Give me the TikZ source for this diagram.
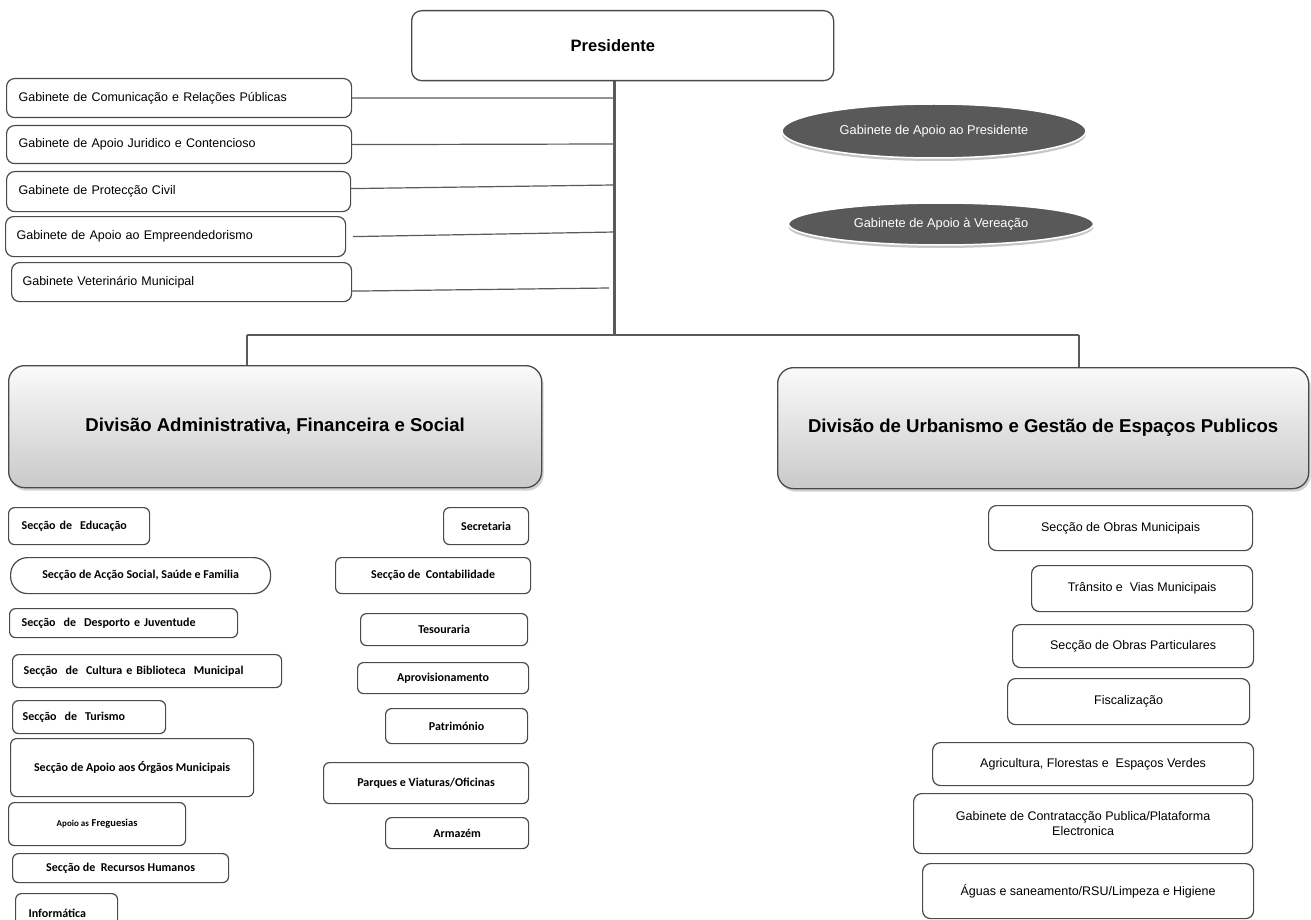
\documentclass[tikz,border=0pt]{standalone}
\usepackage{fontspec}
\setmainfont{Liberation Sans}
\newfontfamily\calf{Carlito}
\usetikzlibrary{shapes.geometric,shadows}
\definecolor{lineg}{HTML}{5A5A5A}
\definecolor{boxb}{HTML}{4A4A4A}
\definecolor{ellf}{HTML}{595959}
\begin{document}
\begin{tikzpicture}[x=1pt,y=-1pt,
  gab/.style={draw=boxb, line width=1.2pt, rounded corners=8pt, fill=white, inner ysep=0pt,
    font=\fontsize{12.5}{15}\selectfont, anchor=north west, align=left},
  pbox/.style={draw=boxb, line width=1.3pt, rounded corners=10pt, fill=white, inner ysep=0pt,
    font=\bfseries\fontsize{16.5}{19}\selectfont, anchor=north west, align=left},
  divbox/.style={draw=boxb, line width=1.3pt, rounded corners=16pt, top color=gray!4, bottom color=gray!42,
    drop shadow={shadow xshift=2pt, shadow yshift=-3pt, opacity=0.35},
    font=\bfseries\fontsize{18.6}{21}\selectfont, anchor=north west, inner sep=0pt},
  ell/.style={ellipse, fill=ellf, draw=white, line width=1.5pt, inner sep=0pt,
    drop shadow={shadow xshift=0pt, shadow yshift=-3pt, fill=gray!45, opacity=1},
    text=white, font=\fontsize{12.8}{14}\selectfont},
  sec/.style={draw=boxb, line width=1.2pt, rounded corners=6pt, fill=white, inner ysep=0pt,
    font=\calf\bfseries\fontsize{12}{14}\selectfont, anchor=north west},
  rsec/.style={draw=boxb, line width=1.2pt, rounded corners=8pt, fill=white, inner ysep=0pt,
    font=\fontsize{12.5}{15}\selectfont, anchor=north west, align=center},
  branch/.style={draw=lineg, line width=1.2pt},
  trunkline/.style={draw=lineg, line width=3pt},
  busline/.style={draw=lineg, line width=2.5pt},
  dropline/.style={draw=lineg, line width=2pt}
]
\clip (0,0) rectangle (1311,920);
\fill[white] (0,0) rectangle (1311,920);

% President
\node[pbox, minimum width=422, minimum height=70, text width=104pt, inner xsep=159pt] (pres) at (411,10) {Presidente};

% Gabinetes
\node[gab, minimum width=345, minimum height=39, text width=321pt, inner xsep=12pt] (g1) at (6,78) {Gabinete de Comunicação e Relações Públicas};
\node[gab, minimum width=345, minimum height=38, text width=321pt, inner xsep=12pt] (g2) at (6,125) {Gabinete de Apoio Juridico e Contencioso};
\node[gab, minimum width=344, minimum height=40, text width=320pt, inner xsep=12pt] (g3) at (6,171) {Gabinete de Protecção Civil};
\node[gab, minimum width=340, minimum height=40, text width=318pt, inner xsep=11pt] (g4) at (5,216) {Gabinete de Apoio ao Empreendedorismo};
\node[gab, minimum width=340, minimum height=39, text width=318pt, inner xsep=11pt] (g5) at (11,262) {Gabinete Veterinário Municipal};

% ellipses
\node[ell, minimum width=304, minimum height=54] (e1) at (934,131) {Gabinete de Apoio ao Presidente};
\node[ell, minimum width=305, minimum height=42] (e2) at (941,224) {Gabinete de Apoio à Vereação};

% trunk coordinates
\coordinate (bus) at (614,335);
\coordinate (busL) at (247,335);
\coordinate (busR) at (1079,335);
\coordinate (t1) at (613,98);
\coordinate (t2) at (613,144);
\coordinate (t3) at (613,185);
\coordinate (t4) at (615,232);
\coordinate (t5) at (609,288);

\draw[branch] (g1.east) -- (t1);
\draw[branch] (g2.east) -- (t2);
\draw[branch] ([yshift=3pt]g3.east) -- (t3);
\draw[branch] ([xshift=7pt]g4.east) -- (t4);
\draw[branch] ([yshift=-9pt]g5.east) -- (t5);
\draw[trunkline] (bus |- pres.south) -- (bus);

% divisions
\node[divbox, minimum width=533, minimum height=122] (d1) at (8,365) {Divisão Administrativa, Financeira e Social};
\node[divbox, minimum width=531, minimum height=121] (d2) at (777,367) {Divisão de Urbanismo e Gestão de Espaços Publicos};

\draw[busline] (busL) -- (busR);
\draw[dropline] (busL) -- (busL |- d1.north);
\draw[dropline] (busR) -- (busR |- d2.north);

% left sections
\node[sec, minimum width=141, minimum height=37, text width=115pt, inner xsep=13pt, align=left] (s1) at (8,507) {Secção de\ \ Educação};
\node[sec, rounded corners=17pt, minimum width=260, minimum height=36] (s2) at (10,557) {Secção de Acção Social, Saúde e Familia};
\node[sec, minimum width=228, minimum height=29, text width=204pt, inner xsep=12pt, align=left] (s3) at (9,608) {Secção\ \ de\ \ Desporto e Juventude};
\node[sec, minimum width=269, minimum height=33, text width=247pt, inner xsep=11pt, align=left] (s4) at (12,654) {Secção\ \ de\ \ Cultura e Biblioteca\ \ Municipal};
\node[sec, minimum width=153, minimum height=33, text width=133pt, inner xsep=10pt, align=left] (s5) at (12,700) {Secção\ \ de\ \ Turismo};
\node[sec, minimum width=243, minimum height=58] (s6) at (10,738) {Secção de Apoio aos Órgãos Municipais};
\node[sec, minimum width=177, minimum height=43] (s7) at (8,802) {{\fontsize{9}{10}\selectfont Apoio as} {\fontsize{10.5}{12}\selectfont Freguesias}};
\node[sec, minimum width=216, minimum height=29] (s8) at (12,853) {Secção de\ \ Recursos Humanos};
\node[sec, minimum width=102, minimum height=40, text width=76pt, inner xsep=13pt, align=left] (s9) at (15,893) {Informática};

% middle sections
\node[sec, minimum width=85, minimum height=37] (m1) at (443,507) {Secretaria};
\node[sec, minimum width=195, minimum height=36] (m2) at (335,557) {Secção de\ \ Contabilidade};
\node[sec, minimum width=167, minimum height=32] (m3) at (360,613) {Tesouraria};
\node[sec, minimum width=171, minimum height=31] (m4) at (357,662) {Aprovisionamento};
\node[sec, minimum width=142, minimum height=35] (m5) at (385,708) {Património};
\node[sec, minimum width=205, minimum height=41] (m6) at (323,762) {Parques e Viaturas/Oficinas};
\node[sec, minimum width=143, minimum height=31] (m7) at (385,817) {Armazém};

% right sections
\node[rsec, minimum width=264, minimum height=45] (r1) at (988,505) {Secção de Obras Municipais};
\node[rsec, minimum width=221, minimum height=46] (r2) at (1031,565) {Trânsito e\ \ Vias Municipais};
\node[rsec, minimum width=241, minimum height=43] (r3) at (1012,624) {Secção de Obras Particulares};
\node[rsec, minimum width=242, minimum height=46] (r4) at (1007,678) {Fiscalização};
\node[rsec, minimum width=321, minimum height=43] (r5) at (932,742) {Agricultura, Florestas e\ \ Espaços Verdes};
\node[rsec, minimum width=339, minimum height=60] (r6) at (913,793) {Gabinete de Contratacção Publica/Plataforma\\Electronica};
\node[rsec, minimum width=331, minimum height=55] (r7) at (922,863) {Águas e saneamento/RSU/Limpeza e Higiene};
\end{tikzpicture}
\end{document}
